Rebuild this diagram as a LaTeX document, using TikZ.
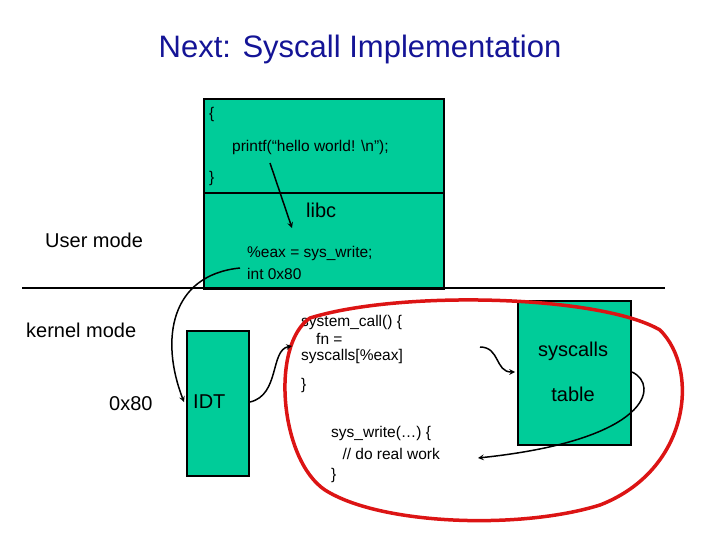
\documentclass[tikz,border=0pt]{standalone}
\usepackage{fontspec}
\setmainfont{Liberation Sans}
\definecolor{grn}{RGB}{0,204,153}
\definecolor{ttl}{RGB}{20,20,150}
\definecolor{rd}{RGB}{220,20,20}
\begin{document}
\begin{tikzpicture}[x=1pt,y=-1pt,
  box/.style={draw=black,line width=2pt,fill=grn,anchor=north west,inner sep=0pt},
  lbl/.style={font=\fontsize{20}{24}\selectfont,inner sep=1pt},
  code/.style={font=\fontsize{15.5}{18}\selectfont,inner sep=1pt,align=left},
  arr/.style={->,>=stealth,line width=1.5pt}]
\useasboundingbox (0,0) rectangle (720,540);
\node[font=\fontsize{31}{36}\selectfont,text=ttl] (title) at (360,49) {Next: Syscall Implementation};
\node[box,minimum width=240,minimum height=94] (top) at (203,98) {};
\node[box,minimum width=240,minimum height=96] (libcbox) at (203,192) {};
\node[box,minimum width=62,minimum height=145] (idt) at (186,330) {};
\node[box,minimum width=113,minimum height=144] (tbl) at (517,300) {};
\draw[line width=1.2pt] (22,288) coordinate (la) -- (665,288) coordinate (lb);
\node[code,anchor=west] (ob) at (208,114) {\{};
\node[code,anchor=west] (pf) at (231,147) {printf(“hello world! \textbackslash n”);};
\node[code,anchor=west] (cb) at (208,178) {\}};
\node[lbl,anchor=west] (libc) at (305,210) {libc};
\node[code,anchor=west] (eax) at (246,253) {\%eax = sys\_write;};
\node[code,anchor=west] (int) at (246,274) {int 0x80};
\node[lbl,anchor=west] (um) at (44,240) {User mode};
\node[lbl,anchor=west] (km) at (25,330) {kernel mode};
\node[lbl,anchor=west] (hex) at (108,404) {0x80};
\node[lbl,anchor=west] (idtl) at (192,402) {IDT};
\node[code,anchor=west] (sc) at (300,322) {system\_call() \{};
\node[code,anchor=west] (fn) at (315,339) {fn =};
\node[code,anchor=west] (scs) at (300,356) {syscalls[\%eax]};
\node[code,anchor=west] (scb) at (300,385) {\}};
\node[code,anchor=west] (sw) at (330,433) {sys\_write(…) \{};
\node[code,anchor=west] (dw) at (337,454) {~// do real work};
\node[code,anchor=west] (swb) at (330,475) {\}};
\node[lbl,anchor=center] (sy) at (573,351) {syscalls};
\node[lbl,anchor=center] (ta) at (573,394) {table};
\draw[rd,line width=3.5pt] (310,318) .. controls (400,290) and (600,295) .. (660,330)
  .. controls (700,370) and (690,470) .. (600,505) .. controls (520,530) and (380,525) .. (325,490)
  .. controls (280,460) and (270,345) .. (310,318) -- cycle;
\draw[arr] (270,163) -- (292,228);
\draw[arr] (240,268) .. controls (170,275) and (160,340) .. (184,402);
\draw[arr] (250,402) .. controls (280,395) and (270,350) .. (292,346);
\draw[arr] (480,347) .. controls (500,347) and (495,372) .. (515,372);
\draw[arr] (632,372) .. controls (660,385) and (650,440) .. (478,458);
\end{tikzpicture}
\end{document}
